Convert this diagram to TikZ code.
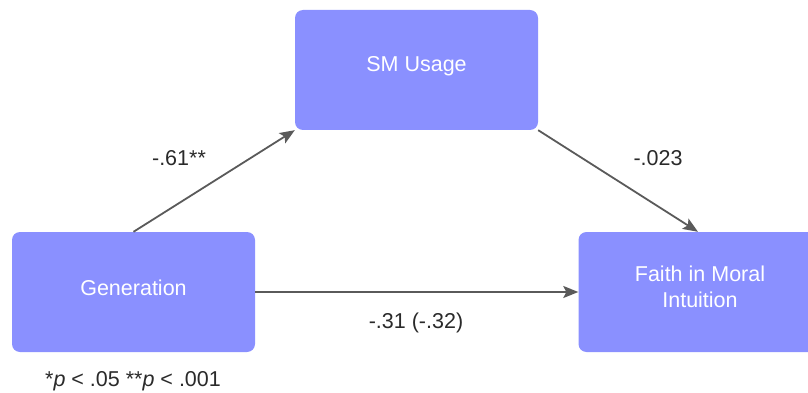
\documentclass[tikz,border=0pt]{standalone}
\usepackage{fontspec}
\setmainfont{Liberation Sans}
\usetikzlibrary{arrows.meta}
\definecolor{boxfill}{HTML}{8A90FF}
\definecolor{linegray}{HTML}{5A5A5A}
\definecolor{labelgray}{HTML}{2A2A2A}
\tikzset{
  varbox/.style={fill=boxfill, draw=none, rounded corners=8pt, minimum width=243pt,
    minimum height=120pt, text=white, align=center, inner sep=0pt,
    font=\fontsize{21.5}{26}\selectfont},
  path/.style={draw=linegray, line width=1.8pt,
    -{Stealth[length=15pt, width=12pt, inset=3pt]}},
  coef/.style={text=labelgray, font=\fontsize{21.5}{24}\selectfont, inner sep=0pt}
}
\begin{document}
\begin{tikzpicture}[x=1pt, y=-1pt]
  \useasboundingbox (0,0) rectangle (808,393);
  % variables
  \node[varbox] (sm)  at (416.5,70)  {};
  \node[varbox] (gen) at (133.5,292) {};
  \node[varbox] (fmi) at (700,292)   {};
  \node[text=white, font=\fontsize{21.5}{26}\selectfont, align=center] (smt)  at (416.5,66) {SM Usage};
  \node[text=white, font=\fontsize{21.5}{26}\selectfont, align=center] (gent) at (133.5,288) {Generation};
  \node[text=white, font=\fontsize{21.5}{26}\selectfont, align=center] (fmit) at (700,287) {Faith in Moral\\Intuition};
  % paths
  \draw[path] (gen.north) -- (sm.south west);
  \draw[path] (sm.south east) -- ([xshift=-2pt]fmi.north);
  \draw[path] (gen.east) -- (fmi.west);
  % coefficients
  \node[coef] (a)  at (179,158) {-.61**};
  \node[coef] (b)  at (658,158) {-.023};
  \node[coef] (c)  at (416,323) {-.31 (-.32)};
  \node[coef] (nt) at (133,381) {*\textit{p} < .05 **\textit{p} < .001};
\end{tikzpicture}
\end{document}
